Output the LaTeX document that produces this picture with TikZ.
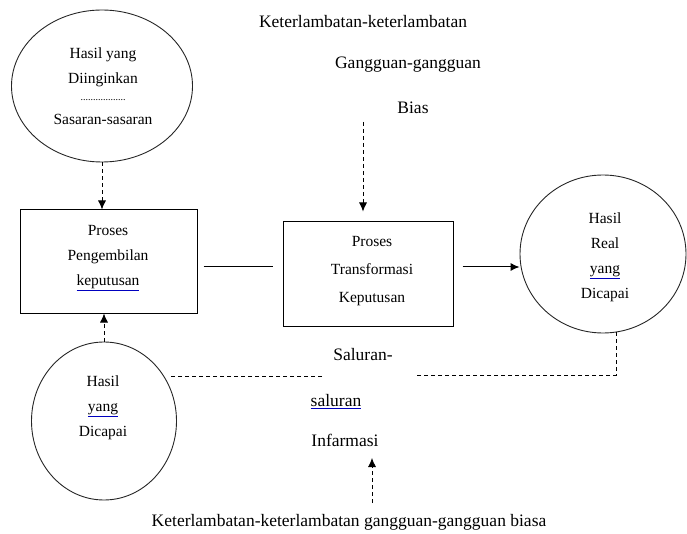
\documentclass[tikz,border=0pt]{standalone}
\usepackage{fontspec}
\setmainfont{Liberation Serif}
\usetikzlibrary{shapes.geometric,arrows.meta}
\newcommand\spellmark[1]{{\color{blue!75!black}\underline{\color{black}#1}}}
\begin{document}
\begin{tikzpicture}[x=1pt,y=-1pt,
  outline/.style={draw=black!85,line width=0.9pt},
  oval/.style={outline,ellipse,inner sep=0pt},
  procbox/.style={draw,line width=1pt,rectangle,inner sep=0pt},
  inner/.style={align=center,font=\fontsize{15.5}{25}\selectfont,inner sep=0pt},
  outer/.style={align=center,font=\fontsize{17.5}{25}\selectfont,inner sep=0pt},
  dashline/.style={line width=0.8pt,dash pattern=on 4pt off 3pt},
  tip/.style={-{Latex[length=9pt,width=8pt]}}]
\useasboundingbox (0,0) rectangle (687,534);
% shapes
\node[oval,minimum width=181pt,minimum height=152pt] (e1) at (102,86) {};
\node[inner] (t1) at (103,86) {Hasil yang\\Diinginkan\\[-8pt]{\fontsize{10}{10}\selectfont ..................}\\[-1pt]Sasaran-sasaran};
\node[procbox,minimum width=177pt,minimum height=103pt] (b1) at (108.5,261.5) {};
\node[inner] (tb1) at (108,258) {Proses\\Pengembilan\\\spellmark{keputusan}};
\node[procbox,minimum width=170pt,minimum height=104pt] (b2) at (368,274) {};
\node[inner] (tb2) at (372,271.5) {Proses\\[3pt]Transformasi\\[3pt]Keputusan};
\node[oval,minimum width=166pt,minimum height=158pt] (e2) at (603,254) {};
\node[inner] (t2) at (605,257.5) {Hasil\\Real\\\spellmark{yang}\\Dicapai};
\node[oval,minimum width=145pt,minimum height=158pt] (e3) at (104,421) {};
\node[inner] (t3) at (103,408) {Hasil\\\spellmark{yang}\\Dicapai};
% labels
\node[outer] (l1) at (363,22) {Keterlambatan-keterlambatan};
\node[outer] (l2) at (408,65) {Gangguan-gangguan};
\node[outer] (l3) at (413,108) {Bias};
\node[outer] (s1) at (363,355) {Saluran-};
\node[outer] (s2) at (336,402) {\spellmark{saluran}};
\node[outer] (s3) at (345,440) {Infarmasi};
\node[outer] (l4) at (349,522) {Keterlambatan-keterlambatan gangguan-gangguan biasa};
% helper coordinates
\coordinate (axis) at (0,267);
\coordinate (biasfrom) at (363,122);
\coordinate (fbR) at (616,332);
\coordinate (fbcorner) at (616,375);
\coordinate (fbmid) at (417,375);
\coordinate (fbL1) at (322,376);
\coordinate (fbL2) at (170,376);
\coordinate (botfrom) at (372,503);
\coordinate (botto) at (372,458);
% connectors
\draw[dashline,tip] (e1.south) -- (e1.south |- b1.north);
\draw[dashline,tip] (e3.north) -- (e3.north |- b1.south);
\draw[line width=1pt,shorten <=6pt,shorten >=10pt] (b1.east |- axis) -- (b2.west |- axis);
\draw[line width=1pt,tip,shorten <=9pt] (b2.east |- axis) -- (e2.west |- axis);
\draw[dashline,tip,shorten >=10pt] (biasfrom) -- (biasfrom |- b2.north);
\draw[dashline] (fbR) -- (fbcorner) -- (fbmid);
\draw[dashline] (fbL1) -- (fbL2);
\draw[dashline,tip] (botfrom) -- (botto);
\end{tikzpicture}
\end{document}
